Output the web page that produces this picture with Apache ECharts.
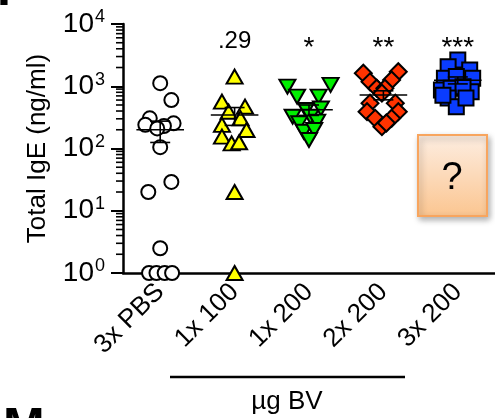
<!DOCTYPE html>
<html>
<head>
<meta charset="utf-8">
<script src="https://cdn.jsdelivr.net/npm/echarts@6/dist/echarts.min.js"></script>
<style>
  html, body { margin: 0; padding: 0; background: #fff; }
  #main { width: 495px; height: 418px; }
</style>
</head>
<body>
<div id="main"></div>
<script>
// groups on the x axis
var groups = ["3x PBS", "1x 100", "1x 200", "2x 200", "3x 200"];
var sigLabels = ["", ".29", "*", "**", "***"];

// each point: [jitter in category units, IgE ng/ml]
var pbs = [[0.0, 1120], [0.15, 600], [-0.14, 305], [-0.2, 240], [0.18, 254], [0.05, 230], [-0.04, 210],
  [0.0, 105], [-0.16, 20], [0.15, 29], [0.0, 2.5], [-0.15, 1], [-0.05, 1], [0.06, 1], [0.16, 1]];
var bv1x100 = [[0.0, 1425], [-0.17, 565], [0.14, 470], [-0.08, 390], [0.08, 305], [-0.17, 240], [0.16, 198],
  [-0.17, 155], [-0.04, 121], [0.06, 126], [0.0, 20], [0.0, 1]];
var bv1x200 = [[-0.29, 985], [0.29, 1050], [-0.16, 680], [0.13, 680], [-0.04, 415], [0.16, 440], [-0.22, 325],
  [0.02, 325], [-0.13, 254], [0.11, 270], [-0.07, 186], [0.07, 198], [0.0, 137]];
var bv2x200 = [[-0.27, 1620], [0.2, 1710], [-0.18, 1180], [0.11, 1260], [-0.09, 930], [0.02, 930], [-0.02, 775],
  [-0.18, 535], [0.16, 535], [-0.22, 390], [0.2, 390], [-0.11, 305], [0.11, 305], [-0.02, 224], [0.04, 257]];
var bv3x200 = [[0.0, 2640], [-0.13, 2050], [0.16, 1820], [-0.18, 1340], [-0.02, 1430], [0.2, 1340], [-0.22, 870],
  [0.18, 815], [-0.09, 930], [0.07, 985], [-0.13, 645], [-0.02, 470], [0.11, 645], [-0.2, 720]];

// mean and SEM per group
var means = [200, 345, 420, 725, 1250];
var sems = [75, 110, 80, 120, 160];

// minor tick positions of the log axis
var minorMult = [2, 3, 4, 5, 6, 7, 8, 9];
var decades = [1, 10, 100, 1000];
var minorTicks = [];
decades.forEach(function (d) {
  minorMult.forEach(function (m) { minorTicks.push(m * d); });
});

var FONT = '"Liberation Sans", Arial, sans-serif';

function place(arr, idx) {
  return arr.map(function (p) { return [idx + p[0], p[1]]; });
}

var chart = echarts.init(document.getElementById("main"));

function markerSeries(name, arr, idx, symbol, size, rotate, color) {
  return {
    name: name,
    type: "scatter",
    xAxisIndex: 1,
    data: place(arr, idx),
    symbol: symbol,
    symbolSize: size,
    symbolRotate: rotate,
    itemStyle: { color: color, borderColor: "#000", borderWidth: 2, opacity: 1 },
    emphasis: { disabled: true },
    z: 3,
  };
}

var option = {
  animation: false,
  grid: { left: 123, top: 24, width: 375, height: 249, containLabel: false },
  xAxis: [
    {
      type: "category",
      data: groups,
      boundaryGap: true,
      axisLine: { lineStyle: { color: "#000", width: 2.5 } },
      axisTick: { alignWithLabel: true, length: 12, lineStyle: { color: "#000", width: 2 } },
      axisLabel: { rotate: 45, fontSize: 26, color: "#000", fontFamily: FONT, margin: 15 },
      splitLine: { show: false },
    },
    { type: "value", min: -0.5, max: 4.5, show: false },
  ],
  yAxis: {
    type: "log",
    logBase: 10,
    min: 1,
    max: 10000,
    name: "Total IgE (ng/ml)",
    nameLocation: "middle",
    nameRotate: 90,
    nameGap: 72,
    nameTextStyle: { fontSize: 26, color: "#000", fontFamily: FONT },
    axisLine: { show: true, onZero: false, lineStyle: { color: "#000", width: 2.5 } },
    axisTick: { show: true, length: 12, lineStyle: { color: "#000", width: 2 } },
    splitLine: { show: false },
    axisLabel: {
      margin: 18,
      color: "#000",
      fontFamily: FONT,
      formatter: function (v) {
        return "10{sup|" + Math.round(Math.log10(v)) + "}";
      },
      fontSize: 28,
      rich: {
        sup: { fontSize: 18, color: "#000", fontFamily: FONT, verticalAlign: "top", padding: [0, 0, 13, 1] },
      },
    },
  },
  series: [
    {
      type: "custom",
      xAxisIndex: 1,
      clip: false,
      silent: true,
      data: minorTicks,
      renderItem: function (params, api) {
        var p = api.coord([-0.5, api.value(0)]);
        return {
          type: "line",
          shape: { x1: p[0] - 7, y1: p[1], x2: p[0], y2: p[1] },
          style: { stroke: "#000", lineWidth: 1.6 },
        };
      },
    },
    markerSeries("3x PBS", pbs, 0, "circle", 14, 0, "#fff"),
    markerSeries("1x 100", bv1x100, 1, "triangle", [16, 14], 0, "#ffff00"),
    markerSeries("1x 200", bv1x200, 2, "triangle", [16, 14], 180, "#00ee00"),
    markerSeries("2x 200", bv2x200, 3, "rect", 12, 45, "#ff3300"),
    markerSeries("3x 200", bv3x200, 4, "rect", 15, 0, "#0a3cff"),
    {
      type: "custom",
      xAxisIndex: 1,
      clip: false,
      silent: true,
      z: 5,
      data: means.map(function (m, i) { return [i, m, sems[i]]; }),
      renderItem: function (params, api) {
        var i = api.value(0), m = api.value(1), s = api.value(2);
        var l = api.coord([i - 0.32, m]), r = api.coord([i + 0.32, m]);
        var hi = api.coord([i, m + s]), lo = api.coord([i, m - s]);
        var cw = 10;
        var st = { stroke: "#000", lineWidth: 1.6 };
        return {
          type: "group",
          children: [
            { type: "line", shape: { x1: l[0], y1: l[1], x2: r[0], y2: r[1] }, style: st },
            { type: "line", shape: { x1: hi[0], y1: hi[1], x2: lo[0], y2: lo[1] }, style: st },
            { type: "line", shape: { x1: hi[0] - cw, y1: hi[1], x2: hi[0] + cw, y2: hi[1] }, style: st },
            { type: "line", shape: { x1: lo[0] - cw, y1: lo[1], x2: lo[0] + cw, y2: lo[1] }, style: st },
          ],
        };
      },
    },
    {
      type: "custom",
      xAxisIndex: 1,
      clip: false,
      silent: true,
      data: sigLabels.map(function (s, i) { return [i, i === 1 ? 5200 : 4000]; }),
      renderItem: function (params, api) {
        var p = api.coord([api.value(0), api.value(1)]);
        return {
          type: "text",
          x: p[0],
          y: p[1],
          style: {
            text: sigLabels[params.dataIndex],
            font: (params.dataIndex === 1 ? "24px " : "28px ") + FONT,
            fill: "#000",
            textAlign: "center",
            textVerticalAlign: "middle",
          },
        };
      },
    },
  ],
  graphic: [
    {
      type: "text",
      left: -3,
      top: -34,
      style: { text: "F", font: "bold 50px " + FONT, fill: "#000" },
    },
    {
      type: "text",
      left: 3,
      top: 404,
      style: { text: "M", font: "bold 50px " + FONT, fill: "#000" },
    },
    {
      type: "line",
      shape: { x1: 170, y1: 377, x2: 405, y2: 377 },
      style: { stroke: "#000", lineWidth: 2.5 },
    },
    {
      type: "text",
      x: 287,
      y: 402,
      style: { text: "\u00b5g BV", font: "26px " + FONT, fill: "#000", textAlign: "center", textVerticalAlign: "middle" },
    },
    {
      type: "rect",
      shape: { x: 418, y: 135, width: 69, height: 81 },
      style: {
        fill: new echarts.graphic.LinearGradient(0, 0, 0, 1, [
          { offset: 0, color: "#fdeee2" },
          { offset: 1, color: "#fbc590" },
        ]),
        stroke: "#f8a55e",
        lineWidth: 2,
        shadowBlur: 6,
        shadowOffsetX: 2,
        shadowOffsetY: 3,
        shadowColor: "rgba(0,0,0,0.3)",
      },
    },
    {
      type: "text",
      x: 452,
      y: 179,
      style: { text: "?", font: "38px " + FONT, fill: "#000", textAlign: "center", textVerticalAlign: "middle" },
    },
  ],
};

chart.setOption(option);
</script>
</body>
</html>
